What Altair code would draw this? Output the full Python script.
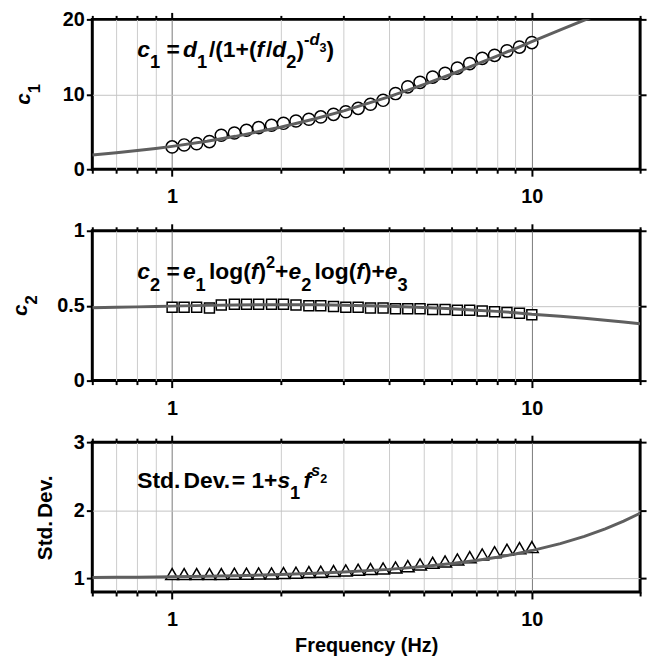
import altair as alt
import pandas as pd

# ---------------- data ----------------
FREQ = [1.00, 1.08, 1.17, 1.27, 1.37, 1.49, 1.61, 1.74, 1.89, 2.04,
        2.21, 2.40, 2.59, 2.81, 3.04, 3.29, 3.56, 3.86, 4.18, 4.52,
        4.89, 5.30, 5.74, 6.21, 6.72, 7.28, 7.88, 8.53, 9.24, 10.00]
C1_OBS = [2.98, 3.24, 3.42, 3.69, 4.53, 4.84, 5.20, 5.56, 5.87, 6.13,
          6.44, 6.67, 6.98, 7.33, 7.67, 8.13, 8.67, 9.20, 10.10, 11.00,
          11.60, 12.30, 12.80, 13.50, 14.10, 14.80, 15.20, 15.80, 16.30, 16.90]
C2_OBS = [0.490, 0.490, 0.490, 0.485, 0.505, 0.510, 0.510, 0.510, 0.510, 0.510,
          0.505, 0.500, 0.500, 0.495, 0.490, 0.490, 0.485, 0.485, 0.480, 0.480,
          0.480, 0.475, 0.475, 0.470, 0.470, 0.465, 0.460, 0.455, 0.450, 0.440]
SD_OBS = [1.063, 1.063, 1.063, 1.063, 1.063, 1.068, 1.068, 1.073, 1.073, 1.078,
          1.083, 1.093, 1.098, 1.107, 1.117, 1.127, 1.137, 1.146, 1.161, 1.180,
          1.205, 1.229, 1.249, 1.278, 1.312, 1.351, 1.385, 1.420, 1.444, 1.459]

FIT_FREQ = [0.6, 0.7, 0.8, 0.9, 1.0, 1.25, 1.5, 2, 2.5, 3, 4, 5, 6, 7, 8, 9, 10,
            12, 14, 16, 18, 20]
C1_FIT = [1.90, 2.20, 2.49, 2.77, 3.05, 3.74, 4.39, 5.61, 6.74, 7.79, 9.66, 11.29,
          12.71, 13.98, 15.10, 16.11, 17.02, 18.59, 19.91, 21.03, 21.98, 22.82]
C2_FIT = [0.486, 0.489, 0.492, 0.495, 0.497, 0.502, 0.505, 0.507, 0.506, 0.503,
          0.496, 0.488, 0.479, 0.470, 0.462, 0.453, 0.443, 0.430, 0.416, 0.403,
          0.391, 0.380]
SD_FIT = [1.013, 1.016, 1.018, 1.021, 1.024, 1.032, 1.040, 1.056, 1.074, 1.093,
          1.132, 1.174, 1.217, 1.263, 1.310, 1.358, 1.408, 1.510, 1.617, 1.726,
          1.840, 1.956]

X_TICKS = [0.6, 0.7, 0.8, 0.9, 1, 2, 3, 4, 5, 6, 7, 8, 9, 10, 20]
X_DOMAIN = [0.6, 20]

# equation pieces: (text, level, italic); level m=main, b=subscript, p=superscript,
# q=subscript of superscript, t=thin space, h=hair space
EQ1 = [("c", "m", 1), ("1", "b", 0), (" ", "m", 0), ("=", "m", 0), (" ", "t", 0),
       ("d", "m", 1), ("1", "b", 0), (" ", "h", 0), ("/(1+(", "m", 0), ("f", "m", 1),
       (" ", "h", 0), ("/", "m", 0), ("d", "m", 1), ("2", "b", 0), (")", "m", 0),
       ("-", "p", 0), ("d", "p", 1), ("3", "q", 0), (")", "m", 0)]
EQ2 = [("c", "m", 1), ("2", "b", 0), (" ", "m", 0), ("=", "m", 0), (" ", "t", 0),
       ("e", "m", 1), ("1", "b", 0), (" ", "t", 0), ("log(", "m", 0), ("f", "m", 1),
       (")", "m", 0), ("2", "p", 0), ("+", "m", 0), ("e", "m", 1), ("2", "b", 0),
       (" ", "t", 0), ("log(", "m", 0), ("f", "m", 1), (")+", "m", 0), ("e", "m", 1),
       ("3", "b", 0)]
EQ3 = [("Std.", "m", 0), (" ", "t", 0), ("Dev.", "m", 0), ("=", "m", 0), (" ", "m", 0),
       ("1+", "m", 0), ("s", "m", 1), ("1", "b", 0), (" ", "t", 0), ("f", "m", 1),
       ("s", "p", 1), ("2", "q", 0)]
T1 = [("c", "m", 1), ("1", "b", 0)]
T2 = [("c", "m", 1), ("2", "b", 0)]
T3 = [("Std.", "m", 0), (" ", "t", 0), ("Dev.", "m", 0)]

# ---------------- styling ----------------
FONT = "Liberation Sans"
W, H = 552, 151
ADV = {' ': 278, '(': 333, ')': 333, '+': 584, '-': 333, '.': 278, '/': 278,
       '1': 556, '2': 556, '3': 556, '=': 584, 'D': 722, 'S': 667, 'c': 556,
       'd': 611, 'e': 556, 'f': 333, 'g': 611, 'l': 278, 'o': 611, 's': 556,
       't': 333, 'v': 556}
LEVELS = {'m': (1.0, 0.0), 'b': (0.8, 0.5), 'p': (0.72, -0.5),
          'q': (0.55, -0.22), 't': (0.5, 0.0), 'h': (0.3, 0.0)}

xscale = alt.Scale(type="log", domain=X_DOMAIN, nice=False)
MAJOR = "datum.value == 1 || datum.value == 10"


def seg_width(segs, F):
    return sum(sum(ADV[c] for c in t) / 1000 * F * LEVELS[l][0] for t, l, _ in segs)


def text_layers(segs, F, data, enc, angle=0):
    layers = []
    x = 0.0
    for t, lvl, it in segs:
        s, d = LEVELS[lvl]
        size = F * s
        if t.strip():
            kw = dict(text=t, align="left", baseline="alphabetic", dx=x, dy=d * F,
                      fontSize=size, fontStyle="italic" if it else "normal",
                      fontWeight="bold", font=FONT, color="black")
            if angle:
                kw["angle"] = angle
            layers.append(alt.Chart(data).mark_text(**kw).encode(**enc))
        x += sum(ADV[c] for c in t) / 1000 * size
    return layers


def panel(obs, fit, ydomain, yvalues, shape, msize, eq, eq_anchor, title, title_x,
          xtitle):
    yscale = alt.Scale(domain=ydomain, nice=False, zero=False)
    df_obs = pd.DataFrame({"f": FREQ, "v": obs})
    df_fit = pd.DataFrame({"f": FIT_FREQ, "v": fit})
    border = f"datum.value == {ydomain[0]} || datum.value == {ydomain[1]}"

    xaxis_kw = dict(orient="bottom", values=X_TICKS, labelOverlap=False,
                    labelExpr="datum.value == 1 ? '1' : datum.value == 10 ? '10' : ''",
                    grid=True,
                    gridColor={"condition": {"test": MAJOR, "value": "#7a7a7a"},
                               "value": "#cccccc"},
                    gridOpacity={"condition": {"test": "datum.value == 0.6 || datum.value == 20",
                                               "value": 0}, "value": 1},
                    tickSize={"condition": {"test": MAJOR, "value": 7}, "value": 4},
                    labelPadding=11, titlePadding=6, title=xtitle)
    pts = alt.Chart(df_obs).mark_point(
        shape=shape, size=msize, filled=True, fill="white", stroke="black",
        strokeWidth=1.5, opacity=1
    ).encode(
        x=alt.X("f:Q", scale=xscale, axis=alt.Axis(**xaxis_kw)),
        y=alt.Y("v:Q", scale=yscale,
                axis=alt.Axis(orient="left", values=yvalues, format="~g", grid=True,
                              gridColor="#c4c4c4",
                              gridOpacity={"condition": {"test": border, "value": 0},
                                           "value": 1},
                              tickSize=6, labelPadding=2, title=None)),
    )
    line = alt.Chart(df_fit).mark_line(color="#5f5f5f", strokeWidth=3, clip=True).encode(
        x=alt.X("f:Q", scale=xscale,
                axis=alt.Axis(orient="top", values=X_TICKS, labels=False, grid=False,
                              tickSize={"condition": {"test": MAJOR, "value": 7},
                                        "value": 4},
                              title=None)),
        y=alt.Y("v:Q", scale=yscale,
                axis=alt.Axis(orient="right", values=yvalues, labels=False, grid=False,
                              tickSize=6, title=None)),
    )
    anchor = pd.DataFrame({"f": [eq_anchor[0]], "v": [eq_anchor[1]]})
    eq_layers = text_layers(
        eq, 23, anchor,
        dict(x=alt.X("f:Q", scale=xscale, axis=None),
             y=alt.Y("v:Q", scale=yscale, axis=None)))
    tdata = pd.DataFrame({"k": [0]})
    tw = seg_width(title, 21)
    t_layers = text_layers(title, 21, tdata,
                           dict(x=alt.value(title_x), y=alt.value(H / 2 + tw / 2)),
                           angle=270)
    return alt.layer(pts, line, *eq_layers, *t_layers).resolve_axis(
        x="independent", y="independent"
    ).properties(width=W, height=H)


p1 = panel(C1_OBS, C1_FIT, [0, 20], [0, 10, 20], "circle", 150, EQ1, (0.8, 15.0),
           T1, -63, None)
p2 = panel(C2_OBS, C2_FIT, [0, 1], [0, 0.5, 1], "square", 100, EQ2, (0.8, 0.675),
           T2, -66, None)
p3 = panel(SD_OBS, SD_FIT, [0.8, 3], [1, 2, 3], "triangle-up", 165, EQ3, (0.8, 2.33),
           T3, -41, "Frequency (Hz)")

chart = alt.vconcat(p1, p2, p3, spacing=62, bounds="flush").properties(
    padding={"left": 8, "top": 5, "right": 5, "bottom": 0},
    background="white",
).configure_view(
    stroke="black", strokeWidth=3
).configure_axis(
    domain=False, labelFont=FONT, labelFontSize=20, labelFontWeight="bold",
    labelColor="black", tickColor="black", tickWidth=2, gridWidth=1,
    titleFont=FONT, titleFontSize=20, titleFontWeight="bold", titleColor="black",
)

chart.save("out.html", embed_options={"renderer": "svg", "actions": False})
